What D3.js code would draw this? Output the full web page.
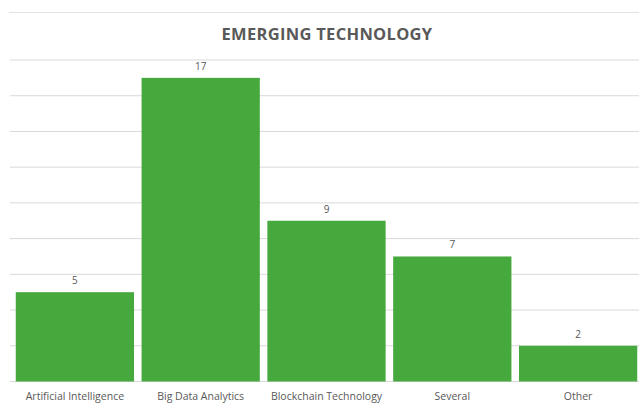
<!DOCTYPE html>
<html>
<head>
<meta charset="utf-8">
<script src="https://cdn.jsdelivr.net/npm/d3@7"></script>
<style>
  body { margin: 0; background: #fff; }
  text { font-family: "Open Sans", sans-serif; fill: #595959; }
</style>
</head>
<body>
<div id="vis"></div>
<script>
// chart data
var categories = ['Artificial Intelligence', 'Big Data Analytics', 'Blockchain Technology', 'Several', 'Other'];
var counts = [5, 17, 9, 7, 2];
var yTicks = [0, 2, 4, 6, 8, 10, 12, 14, 16, 18];

var width = 639, height = 403;
var margin = {top: 60, right: -2, bottom: 21.5, left: 12};

var svg = d3.select('#vis')
	.append('svg')
	.attr('width', width)
	.attr('height', height);

var x = d3.scaleBand()
	.domain(categories)
	.range([margin.left, width - margin.right])
	.paddingInner(0.06)
	.paddingOuter(0.03);

var y = d3.scaleLinear()
	.domain([0, 18])
	.range([height - margin.bottom, margin.top]);

// top frame line
svg.append('line')
	.attr('x1', 9).attr('x2', width)
	.attr('y1', 12.5).attr('y2', 12.5)
	.style('stroke', '#e3e3e3')
	.style('stroke-width', 1);

// gridlines
svg.append('g')
	.selectAll('line')
	.data(yTicks)
	.enter()
	.append('line')
	.attr('x1', 10)
	.attr('x2', width)
	.attr('y1', function(d) { return y(d); })
	.attr('y2', function(d) { return y(d); })
	.style('stroke', '#d9d9d9')
	.style('stroke-width', 1);

// bars
svg.append('g')
	.selectAll('rect')
	.data(counts)
	.enter()
	.append('rect')
	.attr('x', function(d, i) { return x(categories[i]); })
	.attr('y', function(d) { return y(d); })
	.attr('width', x.bandwidth())
	.attr('height', function(d) { return y(0) - y(d); })
	.style('fill', '#45a93e');

// value labels
svg.append('g')
	.selectAll('text')
	.data(counts)
	.enter()
	.append('text')
	.attr('x', function(d, i) { return x(categories[i]) + x.bandwidth() / 2; })
	.attr('y', function(d) { return y(d) - 8; })
	.attr('text-anchor', 'middle')
	.style('font-size', '10px')
	.text(function(d) { return d; });

// category axis labels
svg.append('g')
	.selectAll('text')
	.data(categories)
	.enter()
	.append('text')
	.attr('x', function(d) { return x(d) + x.bandwidth() / 2; })
	.attr('y', 400)
	.attr('text-anchor', 'middle')
	.style('font-size', '10.5px')
	.text(function(d) { return d; });

// title
svg.append('text')
	.attr('x', 327)
	.attr('y', 40)
	.attr('text-anchor', 'middle')
	.style('font-size', '16.5px')
	.style('font-weight', 'bold')
	.style('letter-spacing', '0.3px')
	.text('EMERGING TECHNOLOGY');
</script>
</body>
</html>
